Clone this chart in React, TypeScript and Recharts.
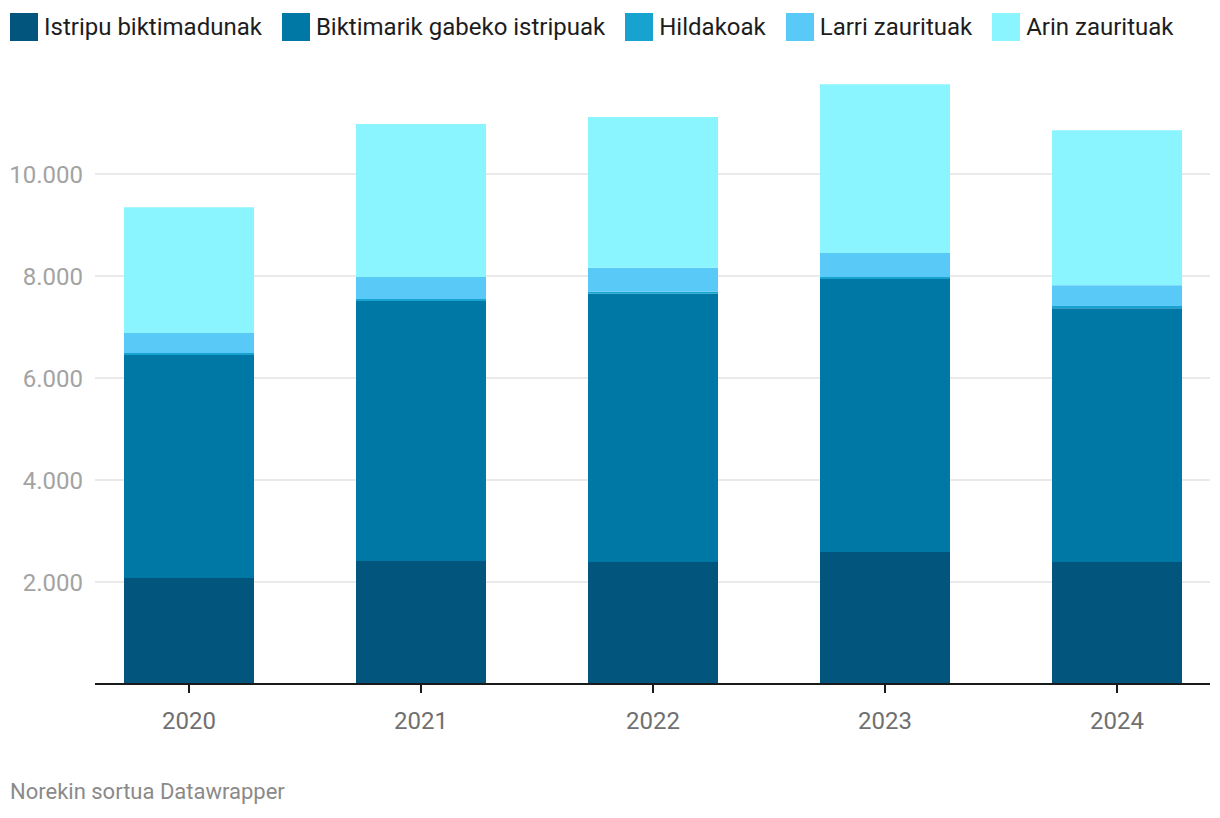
import * as React from "react";
import { Bar, BarChart, CartesianGrid, XAxis, YAxis } from "recharts";

const years = ["2020", "2021", "2022", "2023", "2024"];
const istripuBiktimadunak = [2080, 2410, 2390, 2590, 2390];
const biktimarikGabeko = [4370, 5100, 5260, 5350, 4980];
const hildakoak = [40, 40, 40, 40, 40];
const larriZaurituak = [390, 430, 470, 470, 410];
const arinZaurituak = [2470, 3000, 2960, 3310, 3040];
const yTicks = [2000, 4000, 6000, 8000, 10000];

const series = [
  { key: "istripu", name: "Istripu biktimadunak", color: "#02557c", values: istripuBiktimadunak },
  { key: "biktimarik", name: "Biktimarik gabeko istripuak", color: "#0078a6", values: biktimarikGabeko },
  { key: "hildakoak", name: "Hildakoak", color: "#18a2d0", values: hildakoak },
  { key: "larri", name: "Larri zaurituak", color: "#59c9f8", values: larriZaurituak },
  { key: "arin", name: "Arin zaurituak", color: "#8af5fe", values: arinZaurituak }
];

const data = years.map((year, i) => {
  const row: Record<string, string | number> = { year };
  series.forEach((s) => {
    row[s.key] = s.values[i];
  });
  return row;
});

const fmt = (v: number) => v.toLocaleString("de-DE");

// only the labelled ticks get a grid line (no line at the top of the domain)
function gridRows(props: any) {
  const s = props?.yAxis?.scale;
  if (typeof s === "function") return yTicks.map((t) => s(t));
  if (s && typeof s.map === "function") return yTicks.map((t) => s.map(t));
  return [];
}

export default function App() {
  return (
    <div
      style={{
        position: "absolute",
        left: 0,
        top: 0,
        width: 1220,
        height: 818,
        background: "#fff",
        fontFamily: "Roboto, sans-serif",
        overflow: "hidden"
      }}
    >
      <div style={{ position: "absolute", left: 10, top: 13, display: "flex", alignItems: "center" }}>
        {series.map((s) => (
          <div key={s.key} style={{ display: "flex", alignItems: "center", marginRight: 20 }}>
            <span style={{ width: 28, height: 28, background: s.color, display: "inline-block", marginRight: 6 }} />
            <span style={{ fontSize: 24, color: "#1d1d1d", lineHeight: "28px" }}>{s.name}</span>
          </div>
        ))}
      </div>

      <div style={{ position: "absolute", left: 0, top: 0 }}>
        <BarChart
          width={1220}
          height={818}
          data={data}
          margin={{ top: 72, right: 10, left: 8, bottom: 104 }}
        >
          <CartesianGrid
            vertical={false}
            stroke="#e3e3e3"
            strokeWidth={1.5}
            horizontalCoordinatesGenerator={gridRows}
          />
          <YAxis
            width={87}
            domain={[0, 12000]}
            ticks={yTicks}
            axisLine={false}
            tickLine={false}
            tickMargin={6}
            tickFormatter={(v) => fmt(Number(v))}
            tick={{ fontSize: 24, fill: "#a3a3a3", fontFamily: "Roboto, sans-serif" }}
          />
          <XAxis
            dataKey="year"
            padding={{ left: -22, right: -23 }}
            axisLine={{ stroke: "#1a1a1a", strokeWidth: 2 }}
            tickLine={{ stroke: "#1a1a1a", strokeWidth: 2 }}
            tickSize={9}
            tickMargin={19}
            tick={{ fontSize: 24, fill: "#707070", fontFamily: "Roboto, sans-serif" }}
          />
          {series.map((s) => (
            <Bar
              key={s.key}
              dataKey={s.key}
              name={s.name}
              stackId="a"
              fill={s.color}
              barSize={130}
              isAnimationActive={false}
            />
          ))}
        </BarChart>
      </div>

      <div style={{ position: "absolute", left: 10, top: 779, fontSize: 22, color: "#8a8a8a" }}>
        Norekin sortua Datawrapper
      </div>
    </div>
  );
}
